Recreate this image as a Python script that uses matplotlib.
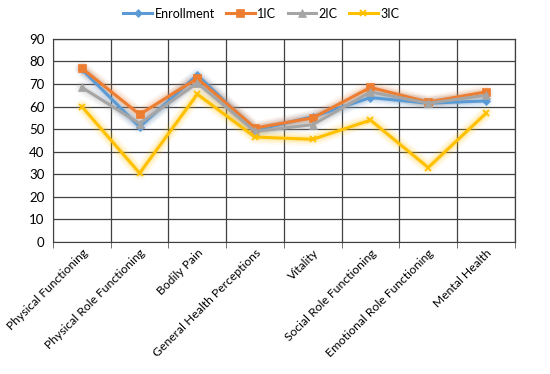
import matplotlib
matplotlib.use("Agg")
import matplotlib.pyplot as plt
import numpy as np

categories = ["Physical Functioning", "Physical Role Functioning", "Bodily Pain",
              "General Health Perceptions", "Vitality", "Social Role Functioning",
              "Emotional Role Functioning", "Mental Health"]
enrollment = [76.5, 51, 74, 49.5, 55.5, 64, 61.5, 62.5]
ic1 = [77, 56.5, 72.5, 50.5, 55, 68.5, 62, 66.5]
ic2 = [68.5, 52.5, 70.5, 49, 52, 66.5, 61.5, 65]
ic3 = [60, 30.5, 65.5, 46.5, 45.5, 54, 33, 57]
series_names = ["Enrollment", "1IC", "2IC", "3IC"]
yticks = [0, 10, 20, 30, 40, 50, 60, 70, 80, 90]

plt.rcParams['font.family'] = ['Lato', 'DejaVu Sans']
fig = plt.figure(figsize=(5.5, 3.74), dpi=100)
ax = fig.add_axes([0.0964, 0.353, 0.8396, 0.543])

x = np.arange(len(categories))
styles = [
    (enrollment, '#5B9BD5', 'D', 4.5),
    (ic1, '#ED7D31', 's', 5.5),
    (ic2, '#A5A5A5', '^', 5.5),
    (ic3, '#FFC000', 'x', 5),
]
# soft glow underneath
for vals, col, mk, ms in styles:
    for lw, a in [(10, 0.07), (7, 0.1), (4.5, 0.15)]:
        ax.plot(x, vals, color=col, linewidth=lw, alpha=a,
                solid_joinstyle='round', solid_capstyle='round')
for (vals, col, mk, ms), name in zip(styles, series_names):
    ax.plot(x, vals, color=col, marker=mk, markersize=ms, linewidth=2.2,
            markeredgewidth=1.3 if mk == 'x' else 0.5, label=name)

ax.set_xlim(-0.5, len(categories) - 0.5)
ax.set_ylim(0, 90)
ax.set_yticks(yticks)
ax.set_xticks(x)
ax.set_xticklabels(categories, rotation=45, ha='right', va='top',
                   rotation_mode='anchor', fontsize=8.7)
ax.set_xticks(np.arange(-0.5, len(categories), 1), minor=True)
ax.tick_params(axis='x', which='major', length=0, pad=4)
ax.tick_params(axis='x', which='minor', length=4, color='#595959')
ax.tick_params(axis='y', length=0, labelsize=9.5, pad=6)
ax.grid(axis='y', which='major', color='#404040', linewidth=0.9)
ax.grid(axis='x', which='minor', color='#404040', linewidth=0.9)
ax.set_axisbelow(True)
for s in ['top', 'right']:
    ax.spines[s].set_color('#404040')
    ax.spines[s].set_linewidth(0.9)
ax.spines['left'].set_color('#404040')
ax.spines['bottom'].set_color('#404040')

fig.legend(loc='upper center', bbox_to_anchor=(0.475, 1.01), ncol=4, frameon=False,
           fontsize=9, handlelength=2.3, columnspacing=0.9, handletextpad=0.2)

fig.savefig("out.png", dpi=100)
